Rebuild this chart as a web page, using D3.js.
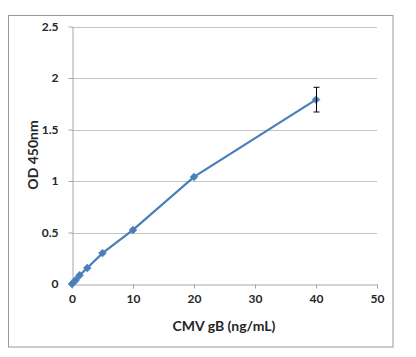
<!DOCTYPE html>
<html><head><meta charset="utf-8">
<script src="https://d3js.org/d3.v7.min.js"></script>
<style>body{margin:0;background:#fff}svg{display:block}</style>
</head><body>
<script>
const concentrations = [0, 0.3125, 0.625, 1.25, 2.5, 5, 10, 20, 40];
const odValues = [0, 0.02, 0.04, 0.085, 0.155, 0.3, 0.525, 1.04, 1.79];
const odErrors = [0, 0, 0, 0, 0, 0, 0, 0, 0.12];
const xTicks = [0, 10, 20, 30, 40, 50];
const yTicks = [0, 0.5, 1, 1.5, 2, 2.5];
const xTitle = "CMV gB (ng/mL)";
const yTitle = "OD 450nm";

const W = 416, H = 357;
const svg = d3.select("body").append("svg").attr("width", W).attr("height", H);
const font = "Lato, 'Open Sans', 'Liberation Sans', sans-serif";

svg.append("rect").attr("x", 8.5).attr("y", 15.5).attr("width", 384.5).attr("height", 331.5)
  .attr("fill", "#fff").attr("stroke", "#9a9a9a").attr("stroke-width", 1);

const x = d3.scaleLinear().domain([0, 50]).range([72, 377]);
const y = d3.scaleLinear().domain([0, 2.5]).range([284, 26.5]);

svg.append("g").selectAll("line").data(yTicks.filter(d => d > 0)).join("line")
  .attr("x1", x(0)).attr("x2", x(50))
  .attr("y1", d => Math.round(y(d)) + 0.5).attr("y2", d => Math.round(y(d)) + 0.5)
  .attr("stroke", "#c4c4c4").attr("stroke-width", 1);

const xAxis = svg.append("g").attr("transform", `translate(0,${Math.round(y(0)) + 0.5})`)
  .call(d3.axisBottom(x).tickValues(xTicks).tickSize(4).tickSizeOuter(0).tickPadding(6).tickFormat(d3.format("d")));
const yAxis = svg.append("g").attr("transform", `translate(${Math.round(x(0)) + 0.5},0)`)
  .call(d3.axisLeft(y).tickValues(yTicks).tickSize(4).tickSizeOuter(0).tickPadding(10).tickFormat(d => String(d)));
[xAxis, yAxis].forEach(g => {
  g.select(".domain").attr("stroke", "#a6a6a6");
  g.selectAll(".tick line").attr("stroke", "#a6a6a6");
  g.selectAll("text").attr("font-family", font).attr("font-size", 12).attr("font-weight", "bold").attr("fill", "#262626");
});

const data = concentrations.map((c, i) => ({c, v: odValues[i], e: odErrors[i]}));

svg.append("path").datum(data)
  .attr("d", d3.line().x(d => x(d.c)).y(d => y(d.v)))
  .attr("fill", "none").attr("stroke", "#4a7ebb").attr("stroke-width", 2.2);

svg.append("g").selectAll("path").data(data).join("path")
  .attr("transform", d => `translate(${x(d.c)},${y(d.v)})`)
  .attr("d", d3.symbol(d3.symbolDiamond2, 40))
  .attr("fill", "#4a7ebb").attr("stroke", "#4a7ebb").attr("stroke-width", 0.5);

const eb = svg.append("g").attr("stroke", "#000").attr("stroke-width", 1);
data.filter(d => d.e > 0).forEach(d => {
  const cx = Math.round(x(d.c)) + 0.5;
  eb.append("line").attr("x1", cx).attr("x2", cx).attr("y1", y(d.v + d.e)).attr("y2", y(d.v - d.e));
  eb.append("line").attr("x1", cx - 3).attr("x2", cx + 3).attr("y1", y(d.v + d.e)).attr("y2", y(d.v + d.e));
  eb.append("line").attr("x1", cx - 3).attr("x2", cx + 3).attr("y1", y(d.v - d.e)).attr("y2", y(d.v - d.e));
});

svg.append("text").attr("x", 224).attr("y", 331).attr("text-anchor", "middle")
  .attr("font-family", font).attr("font-size", 14).attr("font-weight", "bold").attr("fill", "#262626").text(xTitle);
svg.append("text").attr("transform", "translate(38,155) rotate(-90)").attr("text-anchor", "middle")
  .attr("font-family", font).attr("font-size", 14).attr("font-weight", "bold").attr("fill", "#262626").text(yTitle);
</script>
</body></html>
